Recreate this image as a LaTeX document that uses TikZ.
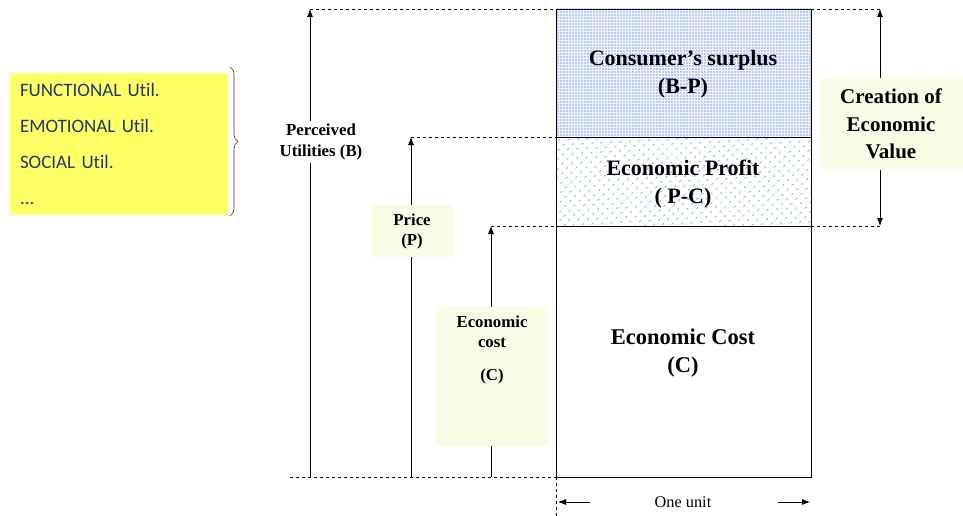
\documentclass[tikz,border=0pt]{standalone}
\usepackage{fontspec}
\setmainfont{Liberation Serif}
\newfontfamily\calibri[Ligatures=NoCommon]{Carlito}
\usetikzlibrary{patterns.meta,decorations.pathreplacing,arrows.meta}
\definecolor{labelfill}{RGB}{249,252,229}
\definecolor{utilfill}{RGB}{255,255,102}
\definecolor{utiltext}{RGB}{31,56,100}
\definecolor{dotblue}{RGB}{120,160,240}

\begin{document}
\begin{tikzpicture}[x=1pt, y=-1pt,
  axis/.style={-{Latex[length=8pt,width=6pt]}, line width=0.8pt},
  guide/.style={dash pattern=on 3pt off 3pt, line width=0.6pt},
  tag/.style={fill=labelfill, align=center, inner sep=0pt, font=\bfseries\fontsize{16.8}{20}\selectfont},
  part/.style={align=center, font=\bfseries\fontsize{22}{28}\selectfont}]
\useasboundingbox (0,0) rectangle (963,516);

% blocks of the unit
\fill[blue!4] (556,9) rectangle (811,137);
\fill[pattern={Dots[radius=0.9pt, distance=3pt]}, pattern color=dotblue] (556,9) rectangle (811,137);
\fill[pattern={Dots[radius=1pt, distance=6.5pt, angle=45]}, pattern color=dotblue] (556,137) rectangle (811,226);
\draw[line width=0.8pt] (556,9) rectangle (811,477);
\draw[line width=0.8pt] (556,137) -- (811,137);
\draw[line width=0.8pt] (556,226) -- (811,226);

\node[part] (surplus) at (683,74) {Consumer's surplus\\(B-P)};
\node[part] (profit) at (683,184) {Economic Profit\\( P-C)};
\node[part, font=\bfseries\fontsize{22.5}{28}\selectfont] (cost) at (683,353) {Economic Cost\\(C)};

% levels
\coordinate (base) at (290,477);
\coordinate (corner) at (556,477);
\coordinate (b0) at (310,477);
\coordinate (b1) at (310,9);
\coordinate (p0) at (411,477);
\coordinate (p1) at (411,137);
\coordinate (c0) at (491,477);
\coordinate (c1) at (491,226);
\coordinate (v1) at (880,9);
\coordinate (v0) at (880,226);

\draw[guide] (base) -- (corner);
\draw[guide] (b1) -- (556,9);
\draw[guide] (811,9) -- (v1);
\draw[guide] (p1) -- (556,137);
\draw[guide] (c1) -- (556,226);
\draw[guide] (811,226) -- (v0);
\draw[guide] (corner) -- (556,516);

\draw[axis] (b0) -- (b1);
\draw[axis] (p0) -- (p1);
\draw[axis] (c0) -- (c1);
\draw[axis, {Latex[length=8pt,width=6pt]}-{Latex[length=8pt,width=6pt]}] (v0) -- (v1);

% labels on the arrows
\node[tag, fill=white, inner sep=3pt, font=\bfseries\fontsize{16.8}{21}\selectfont] (perc) at (321,142) {Perceived\\Utilities (B)};
\node[tag, minimum width=82pt, minimum height=52pt] (price) at (412,231) {Price\\(P)};
\node[tag, anchor=north, minimum width=112pt, text width=112pt, inner ysep=9pt] (ecost) at (492,307)
  {Economic\\cost\\[13pt](C)\\[36pt]\mbox{}};
\node[tag, minimum width=143pt, minimum height=91pt, font=\bfseries\fontsize{21}{27.5}\selectfont] (create) at (891,124)
  {Creation of\\Economic\\Value};

% utilities
\node[fill=utilfill, text=utiltext, align=left, text width=198pt, inner xsep=10pt, minimum height=142pt,
  font=\calibri\fontsize{19}{36}\selectfont] (util) at (119,144)
  {FUNCTIONAL Util.\\EMOTIONAL Util.\\SOCIAL Util.\\...};
\draw[decorate, decoration={brace, amplitude=8pt}, line width=0.6pt, black!80] (230,67) -- (230,216);

% one unit
\node[font=\fontsize{16.3}{18}\selectfont] (unit) at (683,502) {One unit};
\coordinate (ul) at (558,502);
\coordinate (ur) at (810,502);
\draw[axis] (590,502) -- (ul);
\draw[axis] (778,502) -- (ur);
\end{tikzpicture}
\end{document}
